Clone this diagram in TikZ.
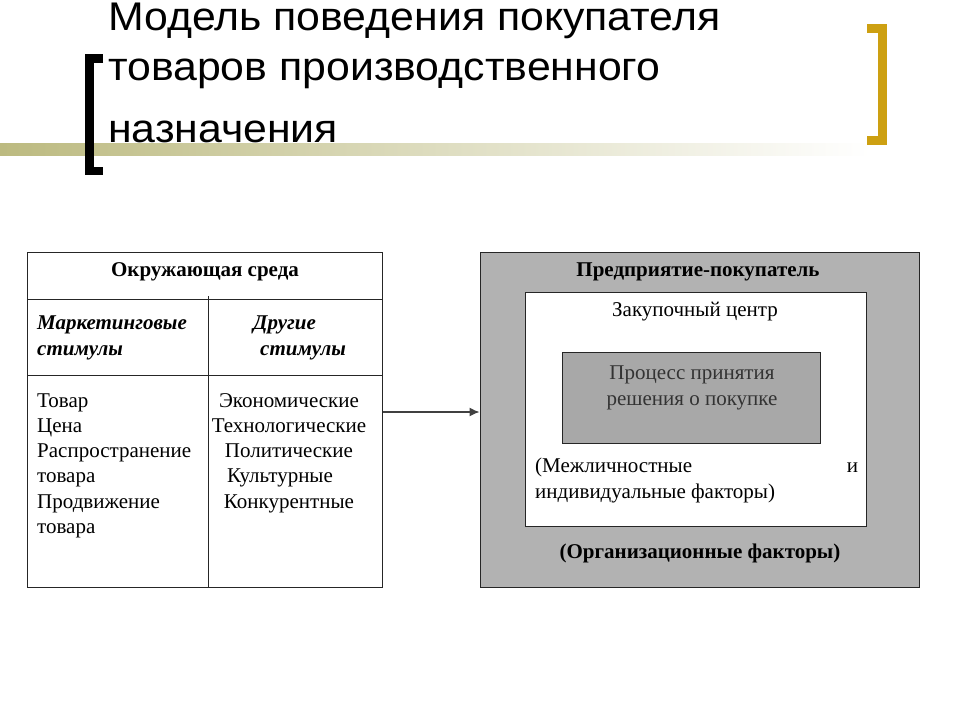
\documentclass[tikz,border=0pt]{standalone}
\usepackage{fontspec}
\setmainfont{Liberation Serif}
\newfontfamily\titlefont[FakeStretch=1.07]{Liberation Sans}
\usetikzlibrary{positioning,arrows.meta}

\definecolor{goldbar}{RGB}{205,160,18}
\definecolor{olivebar}{RGB}{188,186,128}
\definecolor{boxgray}{RGB}{178,178,178}
\definecolor{procgray}{RGB}{168,168,168}

\tikzset{
  titleline/.style={anchor=base west,inner sep=0pt,font=\titlefont\fontsize{40}{40}\selectfont},
  frame/.style={draw=black!85,line width=1pt,inner sep=0pt},
  celltext/.style={inner sep=0pt,font=\fontsize{21}{25.3}\selectfont},
  boldtext/.style={celltext,font=\fontsize{21}{25.3}\selectfont\bfseries},
  stimtext/.style={celltext,anchor=base west,align=left,font=\fontsize{21}{25.3}\selectfont\bfseries\itshape},
}

\begin{document}
\begin{tikzpicture}[x=1pt,y=-1pt]
\useasboundingbox (0,0) rectangle (960,720);

% title
\shade[left color=olivebar,right color=white] (0,143) rectangle (870,155);
\node[titleline] (title1) at (108,30) {Модель поведения покупателя};
\node[titleline] (title2) at (108,80) {товаров производственного};
\node[titleline] (title3) at (108,142) {назначения};
\draw[line width=8.5pt] (103,58.5) -- (89.25,58.5) -- (89.25,171) -- (103,171);
\draw[goldbar,line width=9pt] (867,28.5) -- (882.5,28.5) -- (882.5,140) -- (867,140);

% environment
\node[frame,minimum width=355pt,minimum height=335pt] (env) at (204.5,419.5) {};
\draw[frame] (27,299) -- (382,299);
\draw[frame] (27,375) -- (382,375);
\draw[frame] (208,296) -- (208,587);
\node[boldtext] (envtitle) at (205,272) {Окружающая среда};
\node[stimtext] (mstim) at (37,355) {Маркетинговые\\стимулы};
\node[stimtext] (ostim) at (253,355) {Другие\\\hspace*{7pt}стимулы};
\node[celltext,anchor=base west,align=left] (mlist) at (37,533.5) {Товар\\Цена\\Распространение\\товара\\Продвижение\\товара};
\node[celltext,anchor=base,align=center] (olist) at (289,508.2) {Экономические\\Технологические\\Политические\\Культурные\rule{18pt}{0pt}\\Конкурентные};

% buyer
\node[frame,fill=boxgray,minimum width=439pt,minimum height=335pt] (buyer) at (699.5,419.5) {};
\node[frame,fill=white,minimum width=341pt,minimum height=234pt] (center) at (695.5,409) {};
\node[frame,fill=procgray,minimum width=258pt,minimum height=91pt] (process) at (691,397.5) {};
\node[boldtext] (buyertitle) at (698,272) {Предприятие-покупатель};
\node[celltext] (centertitle) at (695,312) {Закупочный центр};
\node[celltext,align=center,text=black!80] (proctext) at (692,388) {Процесс принятия\\решения о покупке};
\node[celltext,anchor=base west,align=left] (personal) at (535,498) {\makebox[323pt][s]{(Межличностные\hfill и}\\индивидуальные факторы)};
\node[boldtext] (orgfact) at (700,553) {(Организационные факторы)};

\draw[black!75,line width=1.3pt,-{Latex[length=10pt,width=9pt]}] ([yshift=7.5pt]env.east) -- ([yshift=7.5pt]buyer.west);
\end{tikzpicture}
\end{document}
